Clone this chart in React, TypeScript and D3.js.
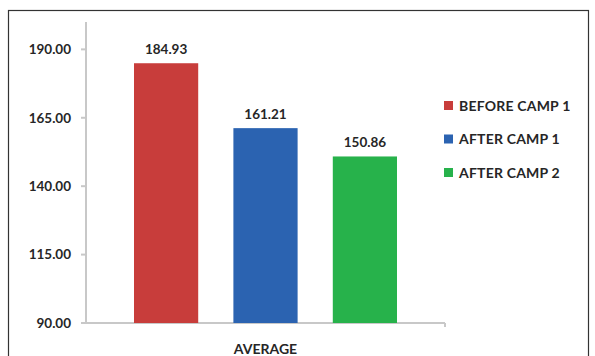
import React from "react";
import * as d3 from "d3";

const categories = ["AVERAGE"];
const seriesNames = ["BEFORE CAMP 1", "AFTER CAMP 1", "AFTER CAMP 2"];
const seriesValues = [184.93, 161.21, 150.86];
const seriesColors = ["#C83D3B", "#2B63B1", "#27B24B"];
const yTicks = [90, 115, 140, 165, 190];

const W = 595;
const H = 356;
const plot = { left: 86, right: 445, top: 22, bottom: 323 };
const FONT = "Lato, 'Liberation Sans', Arial, sans-serif";
const TEXT = "#262626";
const AXIS = "#c8c8c8";

export default function App() {
  const y = d3.scaleLinear().domain([90, 200]).range([plot.bottom, plot.top]);
  const x0 = d3.scaleBand().domain(categories).range([plot.left, plot.right]).paddingInner(0).paddingOuter(0.1825);
  const x1 = d3.scaleBand().domain(seriesNames).range([0, x0.bandwidth()]).paddingInner(0.354);
  const fmt = d3.format(".2f");

  return (
    <svg
      width={W}
      height={H}
      style={{ position: "absolute", left: 0, top: 0, background: "#fff" }}
      fontFamily={FONT}
    >
      <rect x={8.5} y={10.5} width={580} height={360} fill="#fff" stroke="#333" strokeWidth={1.2} />

      {/* y axis */}
      <line x1={plot.left} x2={plot.left} y1={plot.top} y2={plot.bottom} stroke={AXIS} strokeWidth={2} />
      {yTicks.map((t) => (
        <g key={t}>
          <line x1={plot.left - 5} x2={plot.left} y1={y(t)} y2={y(t)} stroke={AXIS} strokeWidth={2} />
          <text x={71} y={y(t)} dy="0.36em" textAnchor="end" fontSize={13.5} fontWeight="bold" fill={TEXT}>
            {fmt(t)}
          </text>
        </g>
      ))}

      {/* x axis */}
      <line x1={plot.left - 1} x2={plot.right} y1={plot.bottom} y2={plot.bottom} stroke={AXIS} strokeWidth={2} />
      <line x1={plot.right} x2={plot.right} y1={plot.bottom} y2={plot.bottom + 4} stroke={AXIS} strokeWidth={2} />

      {categories.map((c) => (
        <g key={c} transform={`translate(${x0(c)},0)`}>
          {seriesNames.map((s, i) => {
            const v = seriesValues[i];
            const bx = x1(s)!;
            return (
              <g key={s}>
                <rect x={bx} y={y(v)} width={x1.bandwidth()} height={plot.bottom - y(v)} fill={seriesColors[i]} />
                <text
                  x={bx + x1.bandwidth() / 2}
                  y={y(v) - 9}
                  textAnchor="middle"
                  fontSize={13.5}
                  fontWeight="bold"
                  fill={TEXT}
                >
                  {fmt(v)}
                </text>
              </g>
            );
          })}
          <text x={x0.bandwidth() / 2} y={354} textAnchor="middle" fontSize={14} fontWeight="bold" fill={TEXT}>
            {c}
          </text>
        </g>
      ))}

      {/* legend */}
      {seriesNames.map((s, i) => {
        const ly = 101 + i * 33.5;
        return (
          <g key={s}>
            <rect x={444} y={ly} width={9} height={9} fill={seriesColors[i]} />
            <text x={459} y={ly + 9.8} fontSize={14} fontWeight="bold" fill={TEXT} style={{ letterSpacing: "0.2px" }}>
              {s}
            </text>
          </g>
        );
      })}
    </svg>
  );
}
